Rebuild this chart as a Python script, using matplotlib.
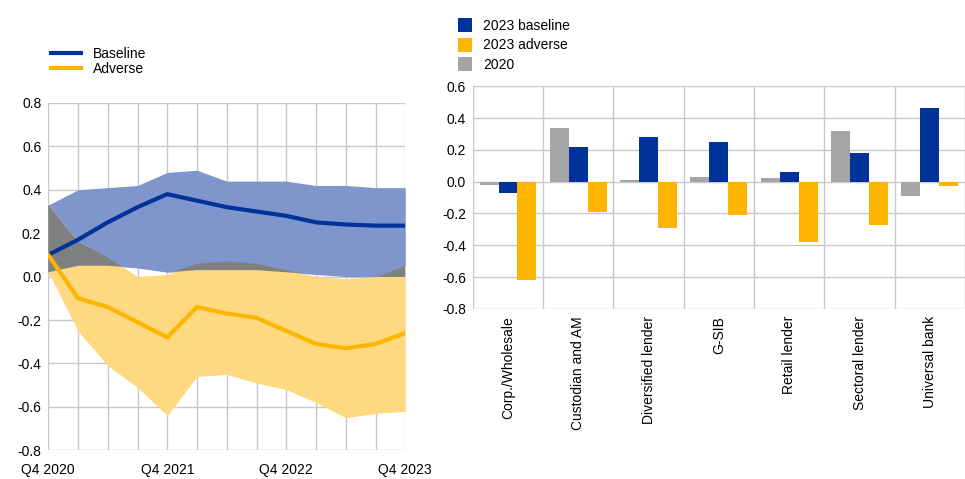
import matplotlib
matplotlib.use("Agg")
import matplotlib.pyplot as plt
import numpy as np

quarters = ["Q4 2020","","","","Q4 2021","","","","Q4 2022","","","","Q4 2023"]
baseline = [0.10,0.17,0.25,0.32,0.38,0.35,0.32,0.30,0.28,0.25,0.24,0.235,0.235]
base_hi = [0.33,0.40,0.41,0.42,0.48,0.49,0.44,0.44,0.44,0.42,0.42,0.41,0.41]
base_lo = [0.02,0.05,0.05,0.04,0.02,0.03,0.03,0.03,0.02,0.01,0.0,0.0,0.0]
adverse = [0.10,-0.10,-0.14,-0.21,-0.28,-0.14,-0.17,-0.19,-0.25,-0.31,-0.33,-0.31,-0.26]
adv_hi = [0.33,0.16,0.09,0.0,0.01,0.06,0.07,0.06,0.03,0.0,-0.01,0.0,0.05]
adv_lo = [0.02,-0.25,-0.41,-0.51,-0.64,-0.46,-0.45,-0.49,-0.52,-0.58,-0.65,-0.63,-0.62]

cats = ["Corp./Wholesale","Custodian and AM","Diversified lender","G-SIB","Retail lender","Sectoral lender","Universal bank"]
v2020 = [-0.02,0.34,0.01,0.03,0.02,0.32,-0.09]
vbase = [-0.07,0.22,0.28,0.25,0.06,0.18,0.46]
vadv = [-0.62,-0.19,-0.29,-0.21,-0.38,-0.27,-0.03]

BLUE="#003299"; YEL="#ffb400"; GRAY="#a5a5a5"
plt.rcParams['font.family']=['Liberation Sans','DejaVu Sans']
fig = plt.figure(figsize=(9.65,4.79), dpi=100)

def fmt(v):
    s=f"{v:.1f}"
    return "0.0" if s=="-0.0" else s

ax = fig.add_axes([0.050,0.06,0.370,0.725])
x = np.arange(len(quarters))
bh,bl,ah,al = map(np.array,(base_hi,base_lo,adv_hi,adv_lo))
ax.fill_between(x,bl,bh,color="#7f96cc",lw=0)
ax.fill_between(x,al,ah,color="#fed97f",lw=0)
ov_lo=np.maximum(bl,al); ov_hi=np.minimum(bh,ah)
ax.fill_between(x,ov_lo,ov_hi,where=ov_hi>ov_lo,interpolate=True,color="#7f8080",lw=0)
ax.plot(x,baseline,color=BLUE,lw=3,label="Baseline")
ax.plot(x,adverse,color=YEL,lw=3,label="Adverse")
ax.set_xlim(0,12); ax.set_ylim(-0.8,0.8)
ax.set_xticks(x); ax.set_xticklabels(quarters,fontsize=10)
yt=np.arange(-0.8,0.81,0.2)
ax.set_yticks(yt); ax.set_yticklabels([fmt(v) for v in yt],fontsize=10)
ax.grid(True,color="#c8c8c8",lw=1); ax.set_axisbelow(True)
for s in ax.spines.values(): s.set_visible(False)
ax.tick_params(length=0,pad=5)
ax.tick_params(axis="x",pad=9)
ax.legend(loc="lower left",bbox_to_anchor=(-0.02,1.05),frameon=False,fontsize=10,handlelength=2.2,labelspacing=0.1,borderaxespad=0.3)

ax2 = fig.add_axes([0.490,0.355,0.510,0.465])
xc=np.arange(len(cats)); w=0.27
ax2.bar(xc-w,v2020,w,color=GRAY,label="2020")
ax2.bar(xc,vbase,w,color=BLUE,label="2023 baseline")
ax2.bar(xc+w,vadv,w,color=YEL,label="2023 adverse")
ax2.set_xlim(-0.5,6.5); ax2.set_ylim(-0.8,0.6)
yt2=np.arange(-0.8,0.61,0.2)
ax2.set_yticks(yt2); ax2.set_yticklabels([fmt(v) for v in yt2],fontsize=10)
ax2.set_xticks(xc); ax2.set_xticklabels(cats,rotation=90,fontsize=10)
ax2.set_xticks(np.arange(-0.5,7,1),minor=True)
ax2.grid(True,axis="y",color="#c8c8c8",lw=1)
ax2.grid(True,axis="x",which="minor",color="#c8c8c8",lw=1)
ax2.set_axisbelow(True)
for s in ax2.spines.values(): s.set_visible(False)
ax2.tick_params(length=0,pad=5,which="both")
h,l=ax2.get_legend_handles_labels()
ax2.legend([h[1],h[2],h[0]],[l[1],l[2],l[0]],loc="lower left",bbox_to_anchor=(-0.05,1.02),frameon=False,fontsize=10,handlelength=1.0,handleheight=1.2,labelspacing=0.35,borderaxespad=0.3)
fig.savefig("out.png",dpi=100)
